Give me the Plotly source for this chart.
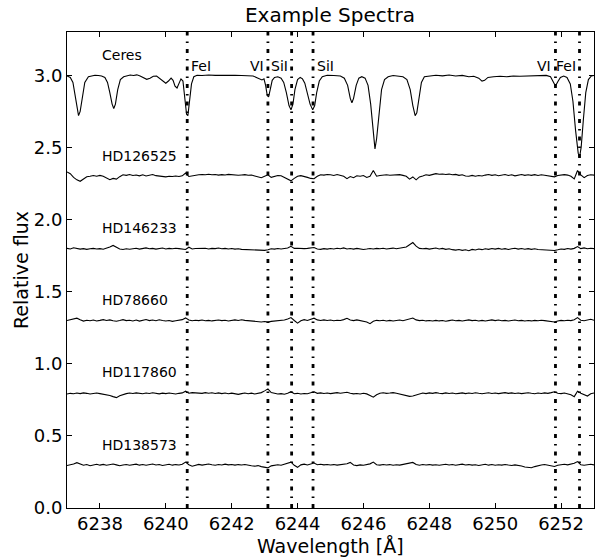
import plotly.graph_objects as go

# ---------------- data ----------------
ceres_wave = [6237.00, 6237.10, 6237.18, 6237.25, 6237.30, 6237.35, 6237.40, 6237.46, 6237.54, 6237.65,
              6237.75, 6237.85, 6237.95, 6238.05, 6238.15, 6238.23, 6238.30, 6238.37, 6238.42, 6238.47,
              6238.54, 6238.62, 6238.72, 6238.82, 6238.92, 6239.02, 6239.12, 6239.22, 6239.32, 6239.42,
              6239.52, 6239.62, 6239.72, 6239.82, 6239.92, 6240.00, 6240.08, 6240.16, 6240.22, 6240.28,
              6240.34, 6240.40, 6240.46, 6240.52, 6240.58, 6240.63, 6240.67, 6240.72, 6240.78, 6240.85,
              6240.95, 6241.10, 6241.30, 6241.50, 6241.70, 6241.90, 6242.10, 6242.30, 6242.50, 6242.65,
              6242.75, 6242.85, 6242.92, 6242.98, 6243.03, 6243.08, 6243.12, 6243.17, 6243.23, 6243.30,
              6243.40, 6243.50, 6243.58, 6243.66, 6243.74, 6243.80, 6243.86, 6243.92, 6244.00, 6244.08,
              6244.15, 6244.22, 6244.30, 6244.38, 6244.46, 6244.52, 6244.58, 6244.66, 6244.75, 6244.90,
              6245.10, 6245.30, 6245.42, 6245.52, 6245.60, 6245.65, 6245.70, 6245.78, 6245.86, 6245.95,
              6246.05, 6246.14, 6246.22, 6246.29, 6246.35, 6246.40, 6246.47, 6246.55, 6246.64, 6246.75,
              6246.90, 6247.05, 6247.20, 6247.32, 6247.42, 6247.50, 6247.57, 6247.62, 6247.69, 6247.76,
              6247.85, 6248.00, 6248.20, 6248.40, 6248.60, 6248.80, 6249.00, 6249.20, 6249.35, 6249.50,
              6249.60, 6249.68, 6249.78, 6249.95, 6250.15, 6250.35, 6250.55, 6250.75, 6250.95, 6251.15,
              6251.35, 6251.55, 6251.68, 6251.76, 6251.83, 6251.90, 6251.98, 6252.08, 6252.18, 6252.28,
              6252.36, 6252.44, 6252.52, 6252.56, 6252.61, 6252.68, 6252.75, 6252.83, 6252.92, 6253.00]
ceres_flux = [2.995, 2.985, 2.950, 2.850, 2.760, 2.720, 2.750, 2.850, 2.950, 2.990,
              2.995, 3.000, 2.998, 2.995, 2.985, 2.950, 2.880, 2.800, 2.770, 2.800,
              2.900, 2.970, 2.990, 2.995, 3.002, 2.998, 3.003, 2.995, 2.985, 2.972,
              2.980, 2.993, 2.995, 2.975, 2.955, 2.945, 2.960, 2.980, 2.965, 2.925,
              2.912, 2.940, 2.975, 2.960, 2.850, 2.730, 2.720, 2.820, 2.940, 2.990,
              3.000, 2.998, 3.002, 2.999, 3.001, 2.998, 3.000, 2.998, 2.999, 2.995,
              2.985, 2.972, 2.968, 2.975, 2.930, 2.860, 2.850, 2.900, 2.965, 2.985,
              2.990, 2.980, 2.950, 2.880, 2.790, 2.760, 2.800, 2.900, 2.970, 2.985,
              2.975, 2.945, 2.880, 2.800, 2.760, 2.790, 2.880, 2.960, 2.990, 3.000,
              2.998, 2.995, 2.980, 2.930, 2.840, 2.810, 2.840, 2.930, 2.980, 2.990,
              2.980, 2.930, 2.800, 2.620, 2.490, 2.560, 2.740, 2.900, 2.970, 2.990,
              2.998, 2.995, 2.990, 2.970, 2.900, 2.790, 2.720, 2.740, 2.850, 2.950,
              2.990, 2.996, 3.000, 2.996, 3.002, 2.995, 2.999, 2.990, 2.993, 2.980,
              2.960, 2.965, 2.985, 2.990, 2.993, 2.990, 2.995, 2.993, 2.995, 2.998,
              2.996, 2.999, 2.990, 2.960, 2.925, 2.955, 2.985, 2.995, 2.985, 2.940,
              2.820, 2.620, 2.460, 2.430, 2.500, 2.700, 2.880, 2.970, 2.995, 2.998]

star_wave = [6237.0, 6237.1, 6237.2, 6237.3, 6237.4, 6237.5, 6237.6, 6237.7, 6237.8, 6237.9,
             6238.0, 6238.1, 6238.2, 6238.3, 6238.4, 6238.5, 6238.6, 6238.7, 6238.8, 6238.9,
             6239.0, 6239.1, 6239.2, 6239.3, 6239.4, 6239.5, 6239.6, 6239.7, 6239.8, 6239.9,
             6240.0, 6240.1, 6240.2, 6240.3, 6240.4, 6240.5, 6240.6, 6240.7, 6240.8, 6240.9,
             6241.0, 6241.1, 6241.2, 6241.3, 6241.4, 6241.5, 6241.6, 6241.7, 6241.8, 6241.9,
             6242.0, 6242.1, 6242.2, 6242.3, 6242.4, 6242.5, 6242.6, 6242.7, 6242.8, 6242.9,
             6243.0, 6243.1, 6243.2, 6243.3, 6243.4, 6243.5, 6243.6, 6243.7, 6243.8, 6243.9,
             6244.0, 6244.1, 6244.2, 6244.3, 6244.4, 6244.5, 6244.6, 6244.7, 6244.8, 6244.9,
             6245.0, 6245.1, 6245.2, 6245.3, 6245.4, 6245.5, 6245.6, 6245.7, 6245.8, 6245.9,
             6246.0, 6246.1, 6246.2, 6246.3, 6246.4, 6246.5, 6246.6, 6246.7, 6246.8, 6246.9,
             6247.0, 6247.1, 6247.2, 6247.3, 6247.4, 6247.5, 6247.6, 6247.7, 6247.8, 6247.9,
             6248.0, 6248.1, 6248.2, 6248.3, 6248.4, 6248.5, 6248.6, 6248.7, 6248.8, 6248.9,
             6249.0, 6249.1, 6249.2, 6249.3, 6249.4, 6249.5, 6249.6, 6249.7, 6249.8, 6249.9,
             6250.0, 6250.1, 6250.2, 6250.3, 6250.4, 6250.5, 6250.6, 6250.7, 6250.8, 6250.9,
             6251.0, 6251.1, 6251.2, 6251.3, 6251.4, 6251.5, 6251.6, 6251.7, 6251.8, 6251.9,
             6252.0, 6252.1, 6252.2, 6252.3, 6252.4, 6252.5, 6252.6, 6252.7, 6252.8, 6252.9,
             6253.0]

hd126525_flux = [2.330, 2.318, 2.292, 2.275, 2.265, 2.280, 2.296, 2.300, 2.305, 2.300,
                 2.306, 2.300, 2.288, 2.276, 2.285, 2.280, 2.297, 2.310, 2.306, 2.312,
                 2.305, 2.309, 2.303, 2.310, 2.302, 2.308, 2.312, 2.304, 2.300, 2.297,
                 2.296, 2.300, 2.298, 2.302, 2.298, 2.303, 2.322, 2.298, 2.303, 2.308,
                 2.310, 2.312, 2.310, 2.314, 2.310, 2.312, 2.308, 2.311, 2.309, 2.313,
                 2.310, 2.312, 2.307, 2.309, 2.311, 2.307, 2.308, 2.302, 2.296, 2.290,
                 2.300, 2.310, 2.292, 2.298, 2.305, 2.303, 2.290, 2.280, 2.268, 2.285,
                 2.300, 2.304, 2.300, 2.292, 2.285, 2.283, 2.300, 2.310, 2.308, 2.312,
                 2.310, 2.305, 2.312, 2.308, 2.300, 2.283, 2.298, 2.290, 2.303, 2.300,
                 2.305, 2.292, 2.300, 2.340, 2.300, 2.305, 2.308, 2.310, 2.307, 2.310,
                 2.308, 2.311, 2.306, 2.300, 2.280, 2.295, 2.275, 2.295, 2.302, 2.310,
                 2.306, 2.312, 2.318, 2.314, 2.316, 2.312, 2.315, 2.310, 2.313, 2.306,
                 2.310, 2.302, 2.300, 2.306, 2.300, 2.305, 2.302, 2.308, 2.312, 2.306,
                 2.310, 2.304, 2.306, 2.312, 2.305, 2.310, 2.303, 2.308, 2.312, 2.306,
                 2.310, 2.306, 2.311, 2.305, 2.310, 2.307, 2.305, 2.302, 2.296, 2.305,
                 2.308, 2.311, 2.308, 2.300, 2.282, 2.340, 2.310, 2.290, 2.305, 2.310,
                 2.308]

hd146233_flux = [1.800, 1.796, 1.804, 1.800, 1.795, 1.798, 1.793, 1.797, 1.800, 1.796,
                 1.798, 1.794, 1.800, 1.810, 1.820, 1.805, 1.796, 1.792, 1.797, 1.794,
                 1.798, 1.801, 1.795, 1.799, 1.803, 1.797, 1.800, 1.795, 1.799, 1.802,
                 1.796, 1.800, 1.797, 1.801, 1.798, 1.795, 1.792, 1.808, 1.796, 1.799,
                 1.800, 1.797, 1.801, 1.796, 1.800, 1.798, 1.802, 1.797, 1.800, 1.796,
                 1.799, 1.795, 1.797, 1.793, 1.792, 1.790, 1.789, 1.788, 1.787, 1.789,
                 1.786, 1.790, 1.797, 1.795, 1.799, 1.796, 1.798, 1.802, 1.814, 1.800,
                 1.801, 1.797, 1.798, 1.800, 1.802, 1.806, 1.796, 1.793, 1.798, 1.795,
                 1.799, 1.796, 1.801, 1.797, 1.803, 1.796, 1.799, 1.795, 1.800, 1.797,
                 1.792, 1.795, 1.799, 1.796, 1.800, 1.797, 1.801, 1.796, 1.799, 1.802,
                 1.797, 1.800, 1.803, 1.810, 1.825, 1.840, 1.815, 1.800, 1.797, 1.800,
                 1.795, 1.799, 1.802, 1.796, 1.800, 1.793, 1.797, 1.791, 1.788, 1.792,
                 1.786, 1.790, 1.784, 1.793, 1.789, 1.795, 1.791, 1.797, 1.793, 1.799,
                 1.795, 1.800, 1.794, 1.798, 1.792, 1.797, 1.801, 1.795, 1.799, 1.794,
                 1.798, 1.793, 1.797, 1.792, 1.790, 1.788, 1.786, 1.787, 1.785, 1.790,
                 1.796, 1.793, 1.799, 1.795, 1.800, 1.812, 1.798, 1.803, 1.797, 1.801,
                 1.798]

hd78660_flux = [1.300, 1.305, 1.310, 1.316, 1.305, 1.296, 1.302, 1.298, 1.303, 1.297,
                1.301, 1.306, 1.300, 1.304, 1.298, 1.295, 1.300, 1.306, 1.299, 1.302,
                1.297, 1.303, 1.296, 1.301, 1.307, 1.299, 1.303, 1.298, 1.305, 1.300,
                1.296, 1.300, 1.294, 1.298, 1.302, 1.306, 1.318, 1.304, 1.298, 1.302,
                1.299, 1.303, 1.298, 1.301, 1.297, 1.300, 1.303, 1.299, 1.302, 1.297,
                1.301, 1.304, 1.300, 1.305, 1.301, 1.298, 1.296, 1.293, 1.292, 1.290,
                1.293, 1.289, 1.294, 1.296, 1.299, 1.297, 1.303, 1.310, 1.320, 1.300,
                1.282, 1.298, 1.306, 1.300, 1.308, 1.316, 1.304, 1.300, 1.304, 1.300,
                1.303, 1.298, 1.302, 1.300, 1.306, 1.315, 1.303, 1.299, 1.304, 1.300,
                1.296, 1.290, 1.278, 1.295, 1.301, 1.298, 1.302, 1.297, 1.301, 1.296,
                1.300, 1.303, 1.298, 1.304, 1.310, 1.317, 1.304, 1.299, 1.302, 1.297,
                1.300, 1.296, 1.301, 1.297, 1.300, 1.295, 1.299, 1.303, 1.298, 1.301,
                1.296, 1.300, 1.304, 1.299, 1.302, 1.297, 1.301, 1.296, 1.300, 1.304,
                1.299, 1.303, 1.298, 1.301, 1.296, 1.300, 1.303, 1.298, 1.301, 1.296,
                1.300, 1.297, 1.301, 1.298, 1.302, 1.299, 1.296, 1.293, 1.290, 1.297,
                1.301, 1.298, 1.302, 1.299, 1.305, 1.320, 1.302, 1.298, 1.303, 1.308,
                1.302]

hd117860_flux = [0.790, 0.795, 0.792, 0.797, 0.793, 0.798, 0.795, 0.790, 0.794, 0.797,
                 0.793, 0.789, 0.786, 0.780, 0.772, 0.765, 0.778, 0.788, 0.793, 0.797,
                 0.794, 0.798, 0.795, 0.792, 0.797, 0.794, 0.799, 0.795, 0.791, 0.796,
                 0.793, 0.797, 0.794, 0.790, 0.795, 0.798, 0.810, 0.796, 0.800, 0.797,
                 0.799, 0.795, 0.800, 0.796, 0.799, 0.794, 0.798, 0.793, 0.797, 0.792,
                 0.796, 0.793, 0.788, 0.793, 0.797, 0.792, 0.796, 0.790, 0.795, 0.800,
                 0.812, 0.826, 0.800, 0.794, 0.790, 0.793, 0.789, 0.795, 0.806, 0.792,
                 0.795, 0.790, 0.794, 0.792, 0.797, 0.806, 0.795, 0.798, 0.794, 0.797,
                 0.793, 0.797, 0.800, 0.796, 0.799, 0.802, 0.796, 0.791, 0.794, 0.790,
                 0.795, 0.791, 0.780, 0.768, 0.785, 0.795, 0.799, 0.795, 0.797, 0.800,
                 0.795, 0.790, 0.783, 0.776, 0.774, 0.776, 0.782, 0.792, 0.797, 0.793,
                 0.798, 0.795, 0.800, 0.796, 0.793, 0.798, 0.794, 0.797, 0.792, 0.795,
                 0.798, 0.793, 0.797, 0.794, 0.799, 0.795, 0.792, 0.796, 0.799, 0.794,
                 0.797, 0.793, 0.796, 0.800, 0.795, 0.798, 0.794, 0.797, 0.793, 0.796,
                 0.799, 0.795, 0.792, 0.797, 0.794, 0.798, 0.795, 0.800, 0.806, 0.796,
                 0.793, 0.797, 0.792, 0.785, 0.772, 0.810, 0.795, 0.783, 0.776, 0.792,
                 0.797]

hd138573_flux = [0.295, 0.299, 0.305, 0.314, 0.304, 0.296, 0.301, 0.293, 0.298, 0.303,
                 0.297, 0.302, 0.296, 0.300, 0.305, 0.299, 0.293, 0.298, 0.302, 0.296,
                 0.300, 0.304, 0.297, 0.301, 0.296, 0.300, 0.305, 0.298, 0.302, 0.295,
                 0.299, 0.303, 0.297, 0.301, 0.298, 0.303, 0.318, 0.300, 0.290, 0.298,
                 0.302, 0.297, 0.301, 0.305, 0.300, 0.296, 0.302, 0.298, 0.304, 0.299,
                 0.302, 0.297, 0.301, 0.298, 0.302, 0.296, 0.293, 0.290, 0.294, 0.287,
                 0.283, 0.278, 0.292, 0.297, 0.300, 0.296, 0.302, 0.307, 0.318, 0.296,
                 0.282, 0.299, 0.304, 0.298, 0.303, 0.312, 0.300, 0.303, 0.299, 0.302,
                 0.298, 0.301, 0.297, 0.300, 0.304, 0.307, 0.316, 0.298, 0.294, 0.299,
                 0.296, 0.301, 0.306, 0.318, 0.300, 0.297, 0.302, 0.298, 0.301, 0.296,
                 0.300, 0.297, 0.302, 0.306, 0.310, 0.316, 0.301, 0.296, 0.302, 0.298,
                 0.301, 0.297, 0.300, 0.296, 0.300, 0.303, 0.298, 0.302, 0.296, 0.300,
                 0.304, 0.298, 0.301, 0.297, 0.300, 0.295, 0.299, 0.303, 0.297, 0.301,
                 0.296, 0.300, 0.297, 0.302, 0.298, 0.295, 0.299, 0.296, 0.291, 0.284,
                 0.281, 0.279, 0.287, 0.294, 0.298, 0.302, 0.297, 0.294, 0.288, 0.296,
                 0.300, 0.303, 0.299, 0.302, 0.310, 0.322, 0.300, 0.296, 0.300, 0.303,
                 0.299]

star_names = ["Ceres", "HD126525", "HD146233", "HD78660", "HD117860", "HD138573"]
star_offsets = [3.0, 2.3, 1.8, 1.3, 0.8, 0.3]

line_waves = [6240.65, 6243.10, 6243.82, 6244.47, 6251.83, 6252.56]
line_names = ["FeI", "VI", "SiI", "SiI", "VI", "FeI"]
line_label_side = ["left", "right", "right", "left", "right", "right"]

x_ticks = [6238, 6240, 6242, 6244, 6246, 6248, 6250, 6252]
y_ticks = [0.0, 0.5, 1.0, 1.5, 2.0, 2.5, 3.0]
x_range = [6237, 6253]
y_range = [0.0, 3.3]

title_text = "Example Spectra"
x_title = "Wavelength [Å]"
y_title = "Relative flux"

# ---------------- figure ----------------
FONT = "DejaVu Sans"
W, H = 597, 558
ML, MR, MT, MB = 67, 3, 32, 50
PW, PH = W - ML - MR, H - MT - MB

fig = go.Figure()

spectra = [(ceres_wave, ceres_flux),
           (star_wave, hd126525_flux),
           (star_wave, hd146233_flux),
           (star_wave, hd78660_flux),
           (star_wave, hd117860_flux),
           (star_wave, hd138573_flux)]

for (w, f), name in zip(spectra, star_names):
    fig.add_trace(go.Scatter(x=w, y=f, mode="lines", name=name,
                             line=dict(color="black", width=1.1), showlegend=False,
                             hoverinfo="skip"))

for lw in line_waves:
    fig.add_trace(go.Scatter(x=[lw, lw], y=y_range, mode="lines", showlegend=False,
                             line=dict(color="black", width=2.8, dash="4px,6px,1.5px,6px"),
                             hoverinfo="skip"))

annotations = []
for name, off in zip(star_names, star_offsets):
    annotations.append(dict(x=6238.0, y=off + 0.14, xref="x", yref="y", text=name,
                            showarrow=False, xanchor="left", yanchor="middle",
                            font=dict(family=FONT, size=14, color="black")))
for lw, lname, side in zip(line_waves, line_names, line_label_side):
    annotations.append(dict(x=lw, y=3.063, xref="x", yref="y", text=lname,
                            showarrow=False, xanchor=side, yanchor="middle",
                            xshift=2 if side == "left" else -2,
                            font=dict(family=FONT, size=14, color="black")))
# axis titles as annotations (exact placement)
annotations.append(dict(x=0.5, y=-(545.5 - (H - MB)) / PH, xref="paper", yref="paper",
                        text=x_title, showarrow=False, xanchor="center", yanchor="middle",
                        borderpad=0,
                        font=dict(family=FONT, size=19, color="black")))
annotations.append(dict(x=(21 - ML) / PW, y=0.5, xref="paper", yref="paper",
                        text=y_title, showarrow=False, xanchor="center", yanchor="middle",
                        textangle=-90, borderpad=0,
                        font=dict(family=FONT, size=19, color="black")))

fig.update_layout(
    width=W, height=H,
    margin=dict(l=ML, r=MR, t=MT, b=MB, autoexpand=False),
    paper_bgcolor="white", plot_bgcolor="white",
    font=dict(family=FONT, color="black"),
    title=dict(text=title_text, x=330 / W, xanchor="center",
               y=1 - 14.7 / H, yanchor="middle", yref="container",
               font=dict(family=FONT, size=20, color="black")),
    annotations=annotations,
)
fig.update_xaxes(range=x_range, tickvals=x_ticks, ticktext=[str(t) for t in x_ticks],
                 ticks="inside", ticklen=5, tickwidth=1, tickcolor="black",
                 showline=True, linecolor="black", linewidth=1, mirror="ticks",
                 showgrid=False, zeroline=False, automargin=False,
                 ticklabelstandoff=-1,
                 tickfont=dict(family=FONT, size=18, color="black"))
fig.update_yaxes(range=y_range, tickvals=y_ticks, tickformat=".1f",
                 ticks="inside", ticklen=5, tickwidth=1, tickcolor="black",
                 showline=True, linecolor="black", linewidth=1, mirror="ticks",
                 showgrid=False, zeroline=False, automargin=False,
                 tickfont=dict(family=FONT, size=18, color="black"))

# remove the browser's default page margin so the figure sits at the window's corner
fig.write_html("out.html",
               config={"displayModeBar": False, "staticPlot": True},
               post_script="document.body.style.margin='0';document.body.style.overflow='hidden';")
